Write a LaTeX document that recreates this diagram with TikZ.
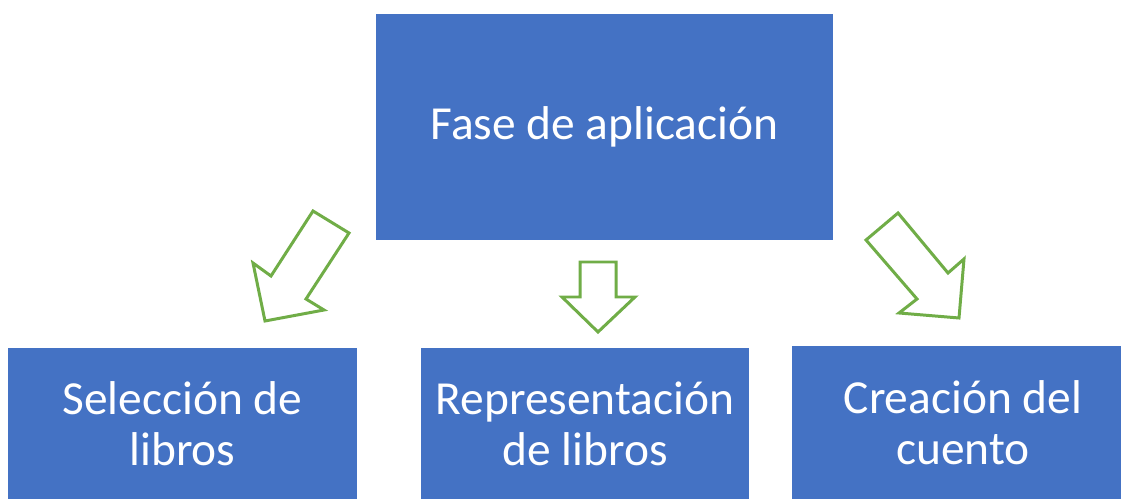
\documentclass[tikz,border=0pt]{standalone}
\usepackage{fontspec}
\setmainfont{Carlito}
\usepackage{tikz}
\definecolor{boxblue}{HTML}{4472C4}
\definecolor{arrowgreen}{HTML}{70AD47}

\begin{document}
\begin{tikzpicture}[x=0.02cm,y=-0.02cm,
  box/.style={fill=boxblue,text=white,align=center,inner sep=0pt,
    font=\fontsize{27}{29}\selectfont},
  blockarrow/.style={draw=arrowgreen,line width=1.7pt,fill=white,line join=miter}]
\useasboundingbox (0,0) rectangle (1121,499);
\node[box,minimum width=9.14cm,minimum height=4.52cm] (fase) at (604.5,127) {Fase de aplicación};
\node[box,minimum width=6.98cm,minimum height=3.04cm] (seleccion) at (182.5,423.5) {Selección de\\libros};
\node[box,minimum width=6.56cm,minimum height=3.04cm] (representacion) at (585,423.5) {Representación\\de libros};
\node[box,minimum width=6.84cm,minimum height=3.08cm] (creacion) at (963,423) {Creación del\\cuento};
\draw[blockarrow]
(313,211) -- (349,233) -- (306,299) -- (324,310) -- (265,321) -- (253,263) -- (271,276) -- cycle;
\draw[blockarrow]
(580,262) -- (616,262) -- (616,297) -- (635,297) -- (598,332) -- (562,297) -- (580,297) -- cycle;
\draw[blockarrow]
(898,213) -- (866,240) -- (917,299) -- (899,313) -- (959,318) -- (964,259) -- (948,273) -- cycle;
\end{tikzpicture}
\end{document}
